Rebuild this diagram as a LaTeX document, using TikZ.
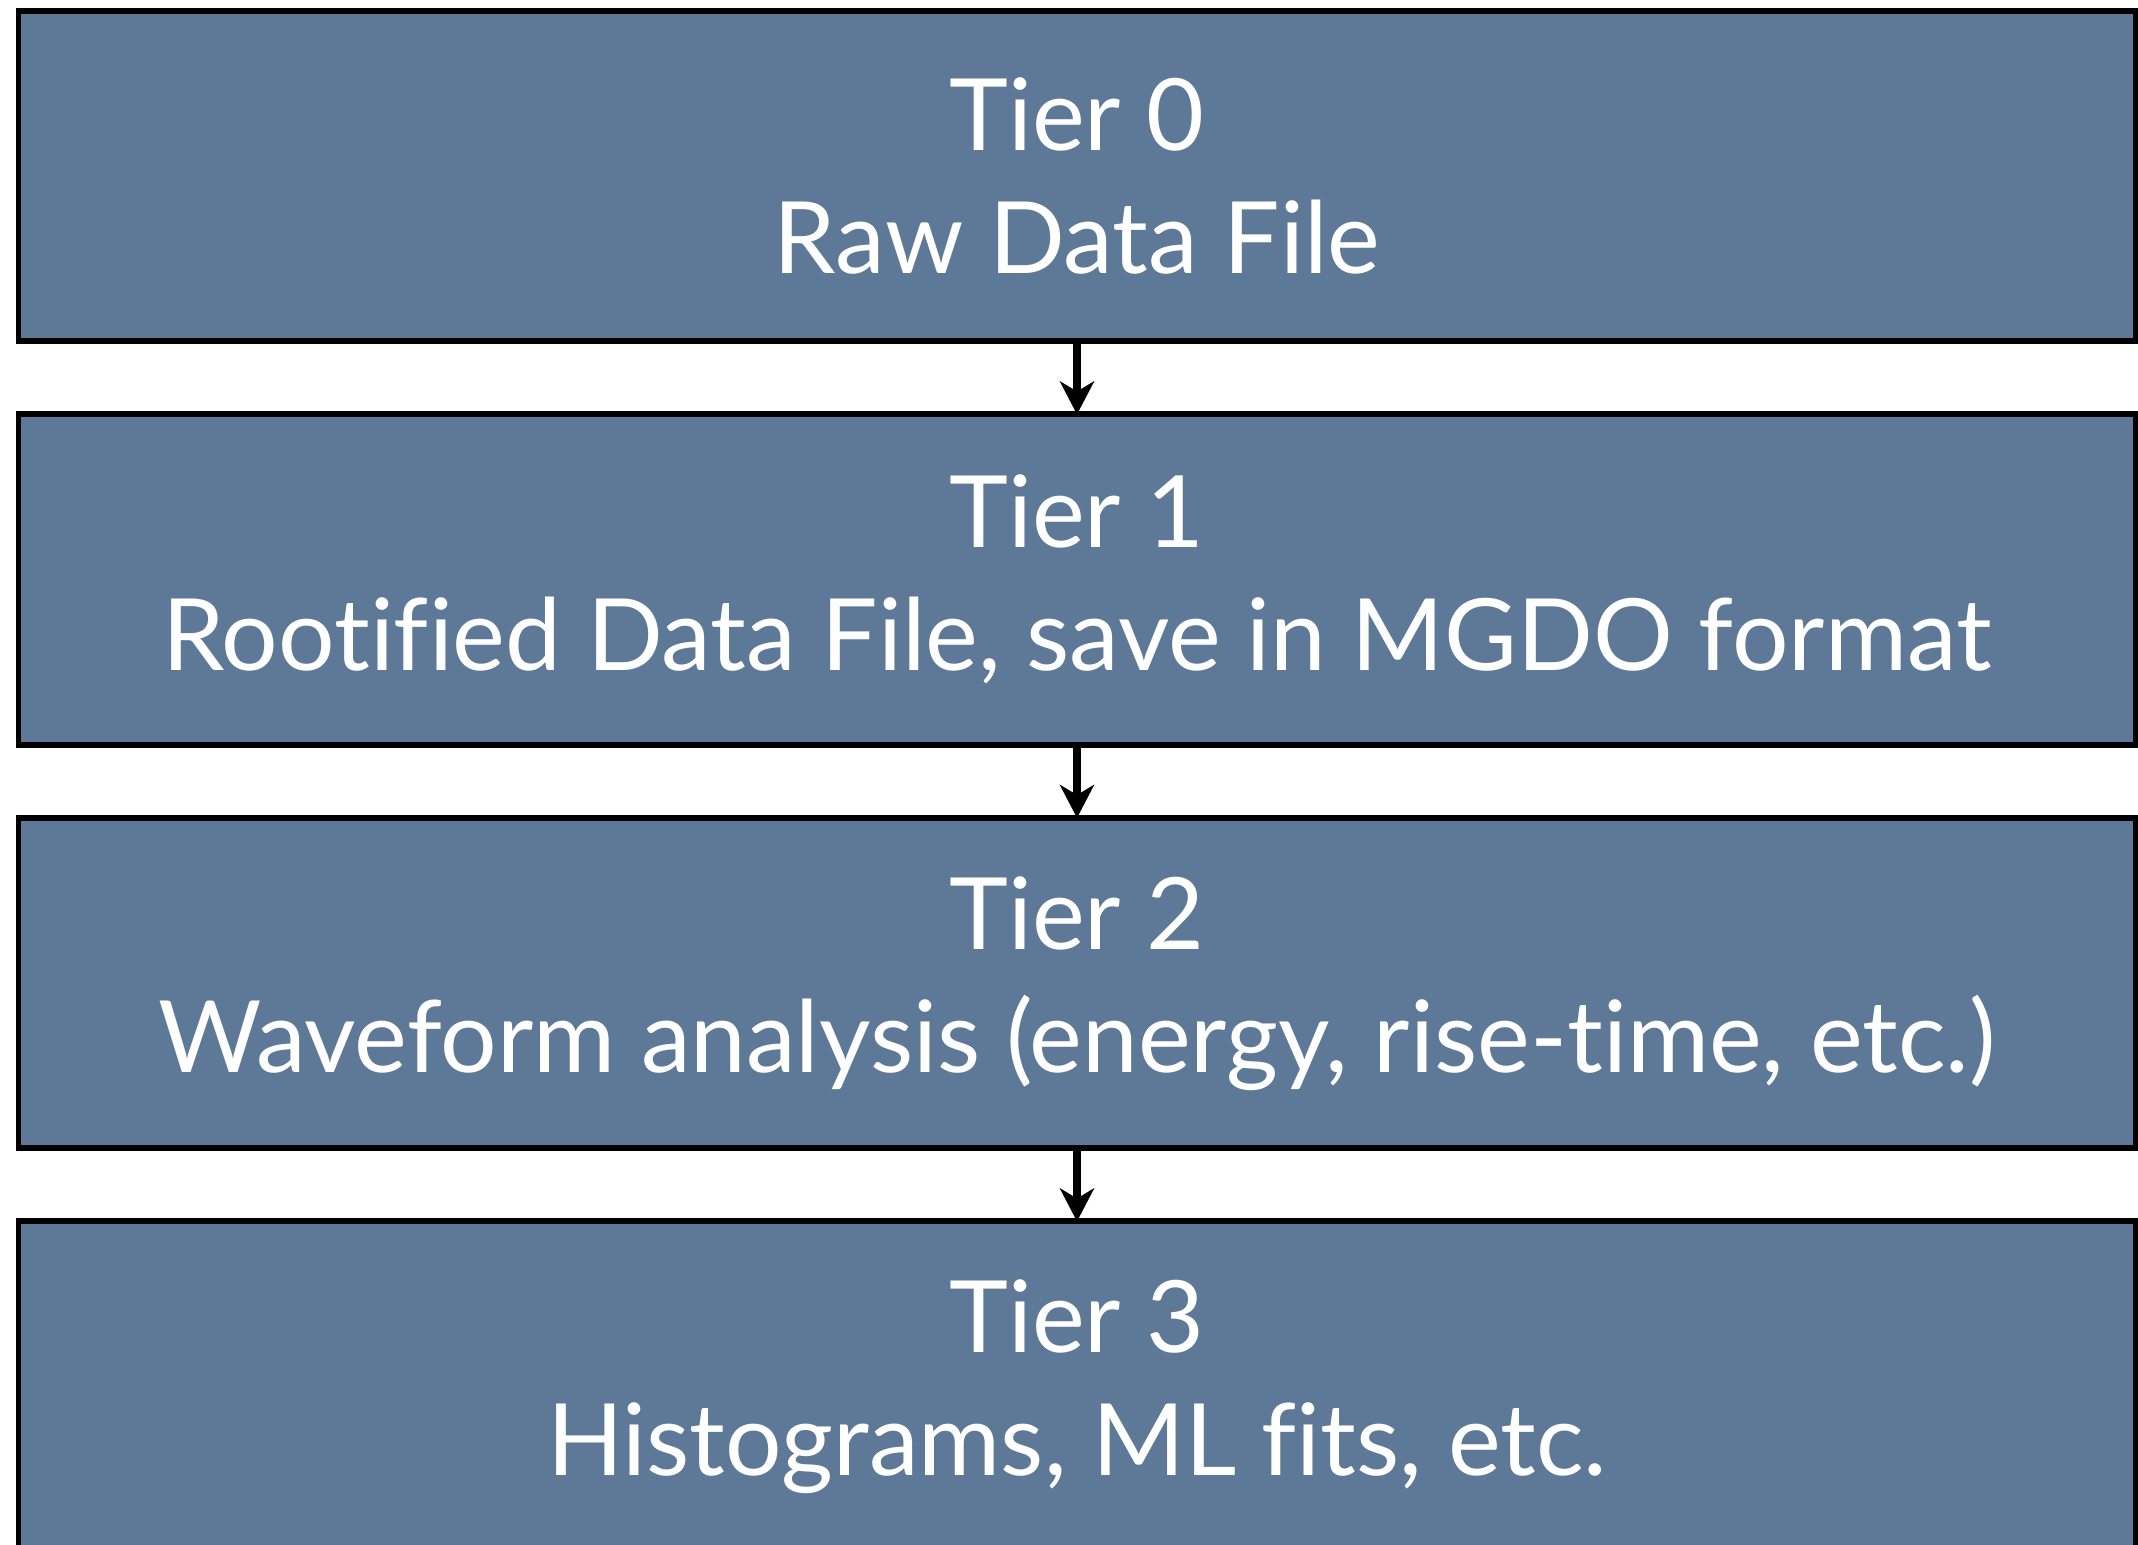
\documentclass[tikz,border=0pt]{standalone}
\usepackage{fontspec}
\setmainfont{Lato}[Ligatures=NoCommon]
\usetikzlibrary{positioning,arrows.meta}
\definecolor{tierblue}{RGB}{93,121,151}
\tikzset{
  tierbox/.style={draw=black,line width=1.7pt,fill=tierblue,text=white,
    minimum width=21.17cm,minimum height=3.305cm,outer sep=0pt,
    align=center,font=\fontsize{28.4}{35}\selectfont},
  tierarrow/.style={line width=2pt,-{Stealth[length=0.33cm,width=0.34cm,inset=0.1cm]}}
}
\begin{document}
\begin{tikzpicture}[node distance=0.73cm]
         \useasboundingbox (0,0) rectangle (21.38,15.45) ;
         \fill[white] (0,0) rectangle (21.38,15.45) ;
         % the four tiers
         \node[tierbox] (tier0) at (10.77,13.6875) {Tier 0\\Raw Data File} ;
         \node[tierbox,below=of tier0] (tier1) {Tier 1\\Rootified Data File, save in MGDO format} ;
         \node[tierbox,below=of tier1] (tier2) {Tier 2\\Waveform analysis (energy, rise-time, etc.)} ;
         \node[tierbox,below=of tier2] (tier3) {Tier 3\\Histograms, ML fits, etc.} ;
         % arrows
         \draw[tierarrow] (tier0) -- (tier1) ;
         \draw[tierarrow] (tier1) -- (tier2) ;
         \draw[tierarrow] (tier2) -- (tier3) ;
      \end{tikzpicture}
\end{document}
